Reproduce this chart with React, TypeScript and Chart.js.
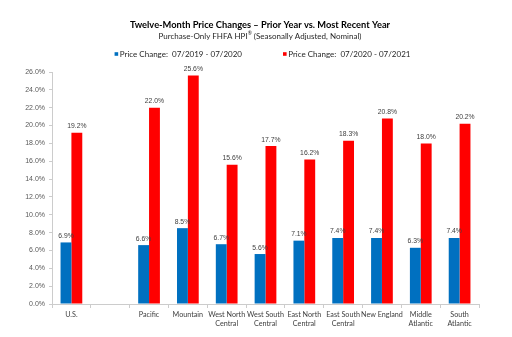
import { useEffect, useRef } from "react";
import { Chart, registerables } from "chart.js";

Chart.register(...registerables);

const categories: string[][] = [
  ["U.S."],
  [""],
  ["Pacific"],
  ["Mountain"],
  ["West North", "Central"],
  ["West South", "Central"],
  ["East North", "Central"],
  ["East South", "Central"],
  ["New England"],
  ["Middle", "Atlantic"],
  ["South", "Atlantic"],
];
const priorYear: (number | null)[] = [6.9, null, 6.6, 8.5, 6.7, 5.6, 7.1, 7.4, 7.4, 6.3, 7.4];
const recentYear: (number | null)[] = [19.2, null, 22.0, 25.6, 15.6, 17.7, 16.2, 18.3, 20.8, 18.0, 20.2];
const seriesLabels = ["Price Change:  07/2019 - 07/2020", "Price Change:  07/2020 - 07/2021"];
const seriesColors = ["#0070C0", "#FF0000"];
const titleText = "Twelve-Month Price Changes \u2013 Prior Year vs. Most Recent Year";
const subtitleParts = ["Purchase-Only FHFA HPI", "\u00AE", " (Seasonally Adjusted, Nominal)"];
const yMax = 26;
const yStep = 2;

export default function App() {
  const ref = useRef<HTMLCanvasElement>(null);

  useEffect(() => {
    if (!ref.current) return;

    const headerPlugin = {
      id: "header",
      afterDraw(chart: any) {
        const ctx: CanvasRenderingContext2D = chart.ctx;
        ctx.save();
        const cx = 260;
        ctx.textBaseline = "middle";
        ctx.textAlign = "center";
        ctx.fillStyle = "#000000";
        ctx.font = "bold 9.3px Lato";
        ctx.fillText(titleText, cx, 25);

        // subtitle with superscript ®
        const mainFont = "8px Lato";
        const supFont = "5px Lato";
        ctx.font = mainFont;
        const w0 = ctx.measureText(subtitleParts[0]).width;
        const w2 = ctx.measureText(subtitleParts[2]).width;
        ctx.font = supFont;
        const w1 = ctx.measureText(subtitleParts[1]).width;
        let x = cx - (w0 + w1 + w2) / 2;
        ctx.textAlign = "left";
        ctx.fillStyle = "#262626";
        ctx.font = mainFont;
        ctx.fillText(subtitleParts[0], x, 36);
        x += w0;
        ctx.font = supFont;
        ctx.fillText(subtitleParts[1], x, 33.5);
        x += w1;
        ctx.font = mainFont;
        ctx.fillText(subtitleParts[2], x, 36);

        // legend
        ctx.font = "8px Lato";
        const box = 3.6;
        const gapBox = 1.6;
        const gapItems = 41;
        const tw = seriesLabels.map((s) => ctx.measureText(s).width);
        const total = box + gapBox + tw[0] + gapItems + box + gapBox + tw[1];
        let lx = 262.5 - total / 2;
        const ly = 54;
        chart.data.datasets.forEach((ds: any, i: number) => {
          ctx.fillStyle = ds.backgroundColor;
          ctx.fillRect(lx, ly - box / 2, box, box);
          lx += box + gapBox;
          ctx.fillStyle = "#262626";
          ctx.fillText(ds.label, lx, ly);
          lx += tw[i] + gapItems;
        });
        ctx.restore();
      },
    };

    const valueLabels = {
      id: "valueLabels",
      afterDatasetsDraw(chart: any) {
        const ctx: CanvasRenderingContext2D = chart.ctx;
        ctx.save();
        ctx.font = "6.8px 'Liberation Sans'";
        ctx.fillStyle = "#404040";
        ctx.textAlign = "center";
        ctx.textBaseline = "bottom";
        chart.data.datasets.forEach((ds: any, i: number) => {
          const meta = chart.getDatasetMeta(i);
          meta.data.forEach((bar: any, j: number) => {
            const v = ds.data[j];
            if (v === null || v === undefined) return;
            ctx.fillText(v.toFixed(1) + "%", bar.x, bar.y - 3);
          });
        });
        ctx.restore();
      },
    };

    const chart = new Chart(ref.current, {
      type: "bar",
      data: {
        labels: categories,
        datasets: [
          { label: seriesLabels[0], data: priorYear, backgroundColor: seriesColors[0] },
          { label: seriesLabels[1], data: recentYear, backgroundColor: seriesColors[1] },
        ],
      },
      options: {
        responsive: false,
        animation: false,
        devicePixelRatio: 1,
        layout: { padding: { left: 0, right: 33, top: 72, bottom: 5 } },
        datasets: { bar: { categoryPercentage: 0.56, barPercentage: 1 } },
        plugins: {
          legend: { display: false },
          title: { display: false },
          tooltip: { enabled: false },
        },
        scales: {
          x: {
            grid: {
              display: true,
              drawOnChartArea: false,
              drawTicks: true,
              tickLength: 4,
              color: "#cccccc",
              offset: true,
            },
            border: { color: "#cccccc" },
            ticks: {
              autoSkip: false,
              maxRotation: 0,
              padding: 1.5,
              color: "#404040",
              font: { family: "Lato", size: 7.2, lineHeight: 1.3 },
            },
            afterFit: (s: any) => {
              s.height = 28;
            },
          },
          y: {
            min: 0,
            max: yMax,
            grid: {
              display: true,
              drawOnChartArea: false,
              drawTicks: true,
              tickLength: 3,
              color: "#cccccc",
            },
            border: { color: "#cccccc" },
            ticks: {
              stepSize: yStep,
              padding: 4,
              color: "#595959",
              font: { family: "'Liberation Sans'", size: 7 },
              callback: (v: any) => Number(v).toFixed(1) + "%",
            },
            afterFit: (s: any) => {
              s.width = 52;
            },
          },
        },
      },
      plugins: [headerPlugin, valueLabels],
    });
    return () => chart.destroy();
  }, []);

  return (
    <div style={{ position: "absolute", left: 0, top: 0, width: 512, height: 337, background: "#fff" }}>
      <canvas ref={ref} width={512} height={337} />
    </div>
  );
}
